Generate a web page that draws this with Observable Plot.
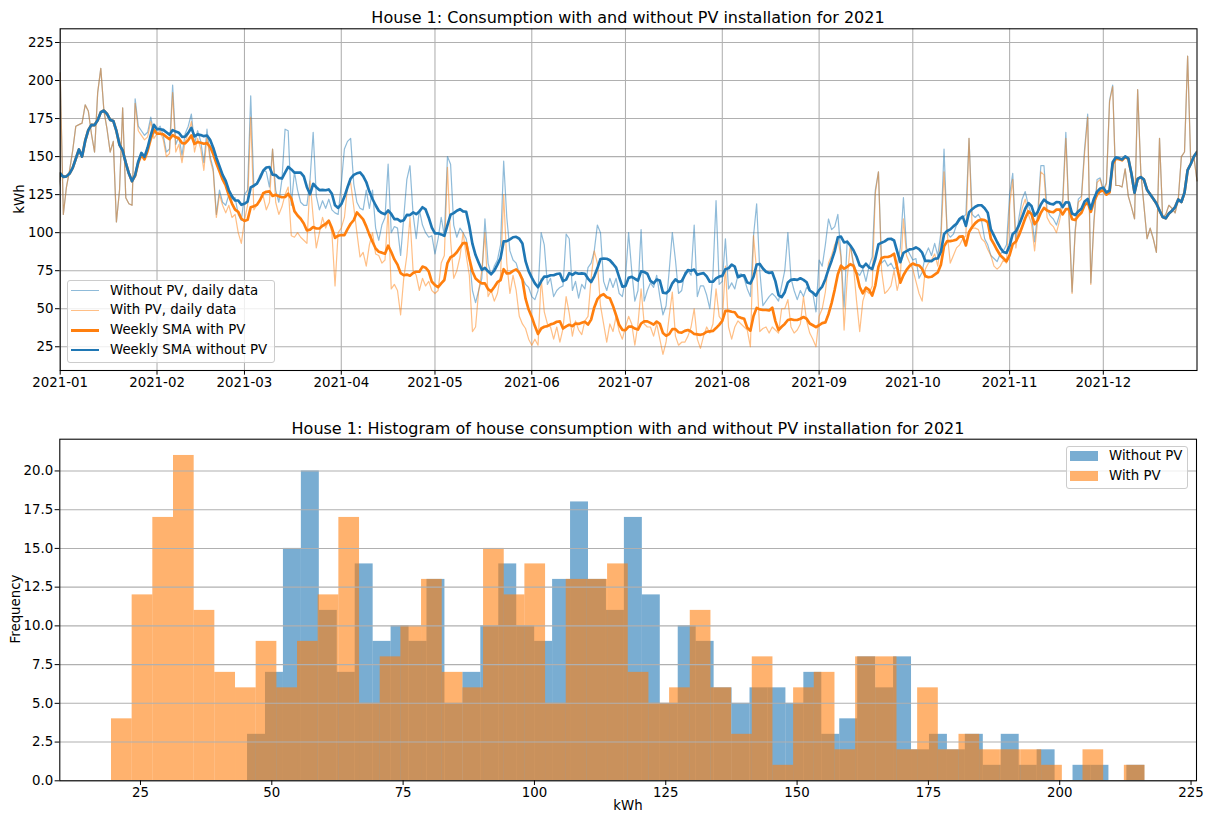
<!DOCTYPE html>
<html>
<head>
<meta charset="utf-8">
<script src="https://cdn.jsdelivr.net/npm/d3@7"></script>
<script src="https://cdn.jsdelivr.net/npm/@observablehq/plot@0.6"></script>
<style>
  html, body { margin: 0; padding: 0; background: #fff; }
  #root { position: relative; width: 1207px; height: 814px; font-family: "DejaVu Sans", sans-serif; color: #000; overflow: hidden; }
  .abs { position: absolute; white-space: nowrap; line-height: 16px; z-index: 2; }
  .plotwrap { position: absolute; left: 0; z-index: 1; }
</style>
</head>
<body>
<div id="root"></div>
<script>
// ---------- DATA ----------
// Daily consumption 2021-01-01 .. 2021-12-31 (kWh)
const dailyWithoutPV = [
205,112,130,141,154,170,171,172,184,180,165,153,192,208,180,168,153,160,107,128,182,123,119,118,
188,170,167,164,166,176,165,168,170,164,153,155,
197,158,163,151,165,170,178,158,167,160,146,168,
150,142,112,128,120,118,125,122,123,112,108,125,128,
190,130,133,138,141,140,130,155,128,120,
135,168,167,118,140,128,120,118,118,135,
166,124,115,121,116,122,115,113,112,132,
155,160,162,132,120,116,115,128,116,128,
103,95,105,110,145,100,104,103,85,110,
135,144,112,96,115,105,100,97,98,86,
96,
110,98,150,145,105,97,103,100,96,
85,62,54,62,70,109,80,72,78,82,
92,147,110,88,82,80,73,70,66,64,
58,56,62,100,92,66,70,58,62,64,
65,99,96,62,68,57,66,63,77,80,
88,105,100,68,62,70,64,70,60,58,
70,100,
75,55,62,102,55,62,67,64,
72,58,46,52,75,100,82,60,62,74,
75,72,105,58,65,65,59,50,72,121,
66,68,96,63,67,63,72,73,70,63,
58,98,119,75,52,55,58,60,58,55,
65,75,100,70,62,56,62,58,64,62,
60,48,82,
78,92,109,102,104,112,85,
51,95,92,80,74,72,76,68,78,84,
128,140,80,82,78,80,76,78,90,123,
90,86,82,83,70,74,85,90,85,93,
85,100,155,100,97,99,105,108,110,112,
162,112,110,112,108,96,92,85,83,81,
86,88,92,125,
139,95,110,122,127,118,
112,94,113,144,144,115,111,109,105,112,
122,166,113,61,102,122,124,155,178,67,
108,135,136,128,133,187,197,131,131,130,
142,124,117,109,194,140,118,96,103,96,
87,162,110,112,118,116,113,122,150,153,
216,146,150,134
];
const dailyWithPV = [
205,112,130,141,154,170,171,172,184,180,165,153,192,208,180,168,153,160,107,128,182,123,119,118,
185,167,164,161,163,173,162,165,167,161,150,152,
192,153,158,146,160,165,173,153,162,155,141,163,
148,140,110,125,118,113,118,110,112,100,93,108,118,
176,115,118,122,124,115,120,155,120,112,
117,125,130,98,97,100,97,95,93,134,
110,90,100,110,103,108,100,65,100,103,
110,130,133,117,100,84,87,78,92,100,
86,85,80,82,115,63,66,62,46,70,
85,110,75,72,62,70,65,68,62,60,
62,
80,85,143,95,70,75,84,100,85,
72,35,38,62,75,100,58,62,55,60,
72,125,80,60,72,62,45,40,37,30,
26,30,26,70,48,40,38,30,38,28,
37,58,47,32,42,36,33,42,45,70,
88,80,52,40,28,40,35,45,35,30,
38,45,
40,26,40,63,40,38,38,32,
40,30,20,28,45,61,32,26,28,28,
32,38,50,30,24,32,38,34,40,63,
45,42,78,38,30,38,42,40,38,36,
25,98,75,35,37,38,34,38,36,34,
50,50,56,38,34,36,40,58,42,34,
30,25,45,
50,61,80,85,92,96,84,
36,70,92,78,55,35,55,62,60,65,
126,140,75,60,62,65,75,62,71,109,
85,80,76,68,60,55,76,80,82,86,
78,95,140,100,80,85,90,92,96,98,
162,103,103,102,96,94,89,85,78,76,
78,82,80,118,
135,90,105,116,122,112,
106,88,108,140,138,110,106,104,100,108,
118,162,110,60,100,120,122,152,176,66,
106,133,135,127,132,186,196,131,131,130,
142,124,117,109,194,140,118,96,103,96,
87,162,110,112,118,116,113,122,150,153,
216,146,150,134
];
// last days of December 2020 (feed the trailing weekly mean at the start of the year)
const dec2020WithoutPV = [128,128,128,128,128,128];
const dec2020WithPV    = [128,128,128,128,128,128];

// Histogram (50 bins per series)
const histWithoutPVRange = [45.38, 216.2];
const histWithoutPVCounts = [
3,7,15,20,11,7,14,9,10,9,
13,5,7,10,14,10,9,13,18,13,
11,17,12,5,10,9,6,5,6,6,
5,7,3,4,8,6,8,2,3,2,
3,1,3,1,2,0,1,1,0,1
];
const histWithPVRange = [19.48, 216.24];
const histWithPVCounts = [
4,12,17,21,11,7,6,9,6,9,
12,17,5,8,10,13,7,6,15,12,
14,5,13,13,14,7,5,6,11,6,
3,8,1,6,7,2,8,8,2,6,
2,3,2,2,2,1,0,2,0,1
];

const topYTicks = [25,50,75,100,125,150,175,200,225];
const histXTicks = [25,50,75,100,125,150,175,200,225];
const histYTicks = [0,2.5,5,7.5,10,12.5,15,17.5,20];

const topTitle = "House 1: Consumption with and without PV installation for 2021";
const bottomTitle = "House 1: Histogram of house consumption with and without PV installation for 2021";
const topLegendLabels = ["Without PV, daily data","With PV, daily data","Weekly SMA with PV","Weekly SMA without PV"];
const histLegendLabels = ["Without PV","With PV"];

// ---------- BUILD ----------
const BLUE = "#1f77b4", ORANGE = "#ff7f0e", GRID = "#b0b0b0";
const DAY = 864e5;
const t0 = Date.UTC(2021, 0, 1);
const daily = dailyWithoutPV.map((v, i) => ({date: new Date(t0 + i * DAY), without: v, with: dailyWithPV[i]}));
const pre = dec2020WithoutPV.map((v, i) => ({date: new Date(t0 - (dec2020WithoutPV.length - i) * DAY), without: v, with: dec2020WithPV[i]}));
const smaRows = pre.concat(daily);
const monthTicks = d3.utcMonth.range(new Date(t0), new Date(Date.UTC(2022, 0, 1)));

const root = document.getElementById("root");
const font = {fontFamily: "DejaVu Sans", fontSize: "13.33px", overflow: "visible"};

const topPlot = Plot.plot({
  width: 1207, height: 400,
  marginLeft: 59.7, marginRight: 10.5, marginTop: 28.3, marginBottom: 30,
  style: font,
  x: {type: "utc", domain: [new Date(t0), new Date(t0 + 364 * DAY)], label: null, axis: null},
  y: {domain: [9.4, 234], label: null, axis: null},
  marks: [
    Plot.gridY(topYTicks, {stroke: GRID, strokeOpacity: 1, strokeWidth: 1.07}),
    Plot.gridX(monthTicks, {stroke: GRID, strokeOpacity: 1, strokeWidth: 1.07}),
    Plot.line(daily, {x: "date", y: "without", stroke: BLUE, strokeWidth: 1.2, strokeOpacity: 0.5}),
    Plot.line(daily, {x: "date", y: "with", stroke: ORANGE, strokeWidth: 1.2, strokeOpacity: 0.5}),
    Plot.line(smaRows, Plot.windowY({k: 7, anchor: "end"}, {x: "date", y: "with", stroke: ORANGE, strokeWidth: 2.67, clip: true})),
    Plot.line(smaRows, Plot.windowY({k: 7, anchor: "end"}, {x: "date", y: "without", stroke: BLUE, strokeWidth: 2.67, clip: true})),
    Plot.frame({stroke: "black", strokeWidth: 1.07}),
    Plot.axisX({ticks: monthTicks, tickFormat: d3.utcFormat("%Y-%m"), tickSize: 4.67, tickPadding: 2, label: null, fontSize: 13.33}),
    Plot.axisY({ticks: topYTicks, tickSize: 4.67, tickPadding: 2, label: null, fontSize: 13.33})
  ]
});

const edges = (range, n) => d3.range(n + 1).map(i => range[0] + i * (range[1] - range[0]) / n);
const eW = edges(histWithoutPVRange, histWithoutPVCounts.length);
const eP = edges(histWithPVRange, histWithPVCounts.length);
const binsWithout = histWithoutPVCounts.map((c, i) => ({x1: eW[i], x2: eW[i + 1], n: c}));
const binsWith = histWithPVCounts.map((c, i) => ({x1: eP[i], x2: eP[i + 1], n: c}));

const histPlot = Plot.plot({
  width: 1207, height: 414,
  marginLeft: 59.3, marginRight: 11, marginTop: 38.7, marginBottom: 33.7,
  style: font,
  x: {domain: [9.64, 226.04], label: null, axis: null},
  y: {domain: [0, 22.05], label: null, axis: null},
  marks: [
    Plot.rect(binsWithout, {x1: "x1", x2: "x2", y1: () => 0, y2: "n", fill: BLUE, fillOpacity: 0.6}),
    Plot.rect(binsWith, {x1: "x1", x2: "x2", y1: () => 0, y2: "n", fill: ORANGE, fillOpacity: 0.6}),
    Plot.gridY(histYTicks, {stroke: GRID, strokeOpacity: 1, strokeWidth: 1.07}),
    Plot.frame({stroke: "black", strokeWidth: 1.07}),
    Plot.axisX({ticks: histXTicks, tickSize: 4.67, tickPadding: 2, label: null, fontSize: 13.33}),
    Plot.axisY({ticks: histYTicks, tickFormat: d3.format(".1f"), tickSize: 4.67, tickPadding: 2, label: null, fontSize: 13.33})
  ]
});

function wrap(node, top) {
  const d = document.createElement("div");
  d.className = "plotwrap";
  d.style.top = top + "px";
  d.appendChild(node);
  root.appendChild(d);
}
wrap(topPlot, 0);
wrap(histPlot, 400);

function text(str, x, y, opts = {}) {
  const d = document.createElement("div");
  d.className = "abs";
  d.textContent = str;
  d.style.fontSize = (opts.size || 13.33) + "px";
  d.style.left = x + "px";
  d.style.top = y + "px";
  let tf = "translate(" + (opts.anchor === "start" ? "0" : "-50%") + ",-50%)";
  if (opts.rotate) tf += " rotate(" + opts.rotate + "deg)";
  d.style.transform = tf;
  root.appendChild(d);
  return d;
}
function box(x, y, w, h, style) {
  const d = document.createElement("div");
  d.style.position = "absolute";
  d.style.left = x + "px"; d.style.top = y + "px";
  d.style.width = w + "px"; d.style.height = h + "px";
  d.style.zIndex = 2;
  Object.assign(d.style, style);
  root.appendChild(d);
  return d;
}

// titles & axis labels
text(topTitle, 628, 18, {size: 16});
text(bottomTitle, 628, 429, {size: 16});
text("kWh", 20, 199, {rotate: -90});
text("kWh", 628, 806);
text("Frequency", 15.5, 609, {rotate: -90});

// top legend
box(66.7, 280, 208.5, 83, {background: "rgba(255,255,255,0.8)", border: "1px solid #cccccc", borderRadius: "3px", boxSizing: "border-box"});
const legStyles = [
  {color: BLUE, w: 1.2, op: 0.5}, {color: ORANGE, w: 1.2, op: 0.5},
  {color: ORANGE, w: 2.67, op: 1}, {color: BLUE, w: 2.67, op: 1}
];
const legY = [290.6, 310.4, 330.2, 350];
topLegendLabels.forEach((lab, i) => {
  const s = legStyles[i];
  box(71, legY[i] - s.w / 2, 28, s.w, {background: s.color, opacity: s.op});
  text(lab, 110, legY[i], {anchor: "start"});
});

// histogram legend
box(1065.7, 445.7, 122.6, 43.3, {background: "rgba(255,255,255,0.8)", border: "1px solid #cccccc", borderRadius: "3px", boxSizing: "border-box"});
[[BLUE, 451], [ORANGE, 471]].forEach(([c, y], i) => {
  box(1070, y, 27.7, 10, {background: c, opacity: 0.6});
  text(histLegendLabels[i], 1109, y + 5, {anchor: "start"});
});
</script>
</body>
</html>
